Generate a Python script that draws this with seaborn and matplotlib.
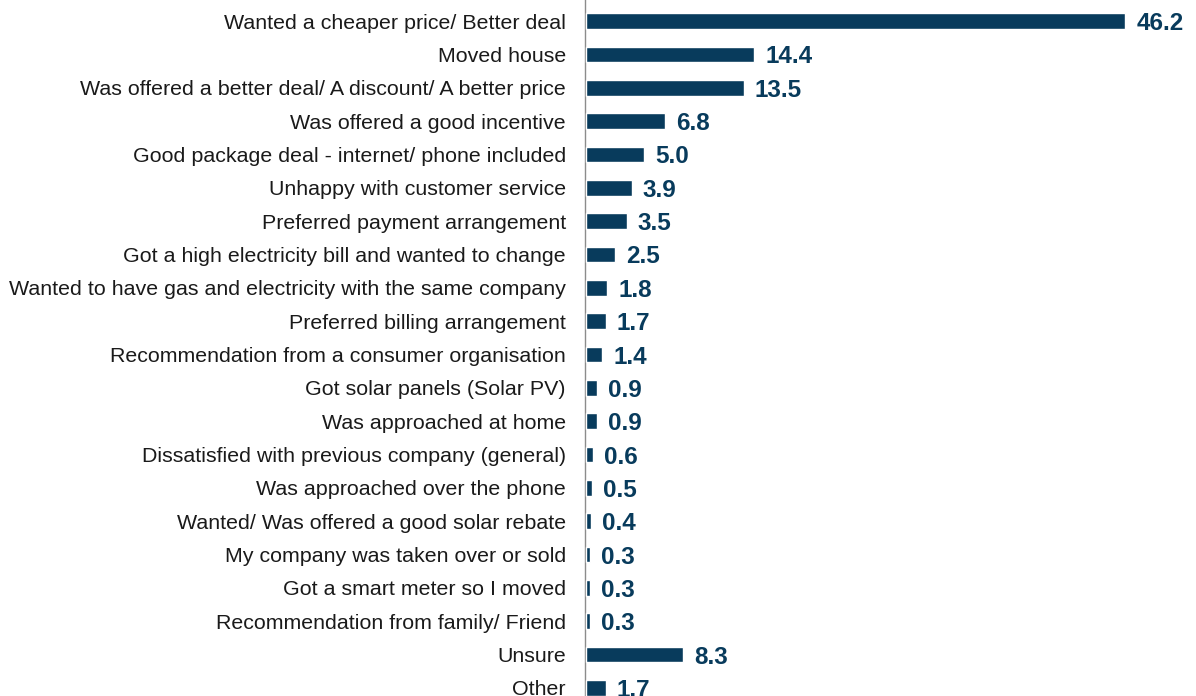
import matplotlib
matplotlib.use("Agg")
import matplotlib.pyplot as plt
import seaborn as sns
import pandas as pd

reasons = [
    "Wanted a cheaper price/ Better deal",
    "Moved house",
    "Was offered a better deal/ A discount/ A better price",
    "Was offered a good incentive",
    "Good package deal - internet/ phone included",
    "Unhappy with customer service",
    "Preferred payment arrangement",
    "Got a high electricity bill and wanted to change",
    "Wanted to have gas and electricity with the same company",
    "Preferred billing arrangement",
    "Recommendation from a consumer organisation",
    "Got solar panels (Solar PV)",
    "Was approached at home",
    "Dissatisfied with previous company (general)",
    "Was approached over the phone",
    "Wanted/ Was offered a good solar rebate",
    "My company was taken over or sold",
    "Got a smart meter so I moved",
    "Recommendation from family/ Friend",
    "Unsure",
    "Other",
]
percent = [46.2, 14.4, 13.5, 6.8, 5.0, 3.9, 3.5, 2.5, 1.8, 1.7, 1.4,
           0.9, 0.9, 0.6, 0.5, 0.4, 0.3, 0.3, 0.3, 8.3, 1.7]

df = pd.DataFrame({"reason": reasons, "percent": percent})

sns.set_theme(style="white")
plt.rcParams["font.family"] = ["Liberation Sans", "DejaVu Sans"]

bar_color = "#083B5C"

fig = plt.figure(figsize=(11.96, 6.96), dpi=100)
ax = fig.add_axes([584.5 / 1196, 0, 1 - 584.5 / 1196, 1])

sns.barplot(data=df, x="percent", y="reason", orient="h", color=bar_color,
            width=0.47, saturation=1, ax=ax, zorder=3)

labels = ax.bar_label(ax.containers[0], fmt="%.1f", padding=8, color=bar_color,
                      fontsize=17.5, fontweight="bold")
for t in labels:
    t.set_verticalalignment("center_baseline")

ax.set_xlim(-0.13, 52.28)
ax.set_ylim(20.24, -0.63)
ax.set_xlabel("")
ax.set_ylabel("")
ax.set_xticks([])
ax.tick_params(axis="y", length=0, pad=13.4, labelsize=15.4, labelcolor="#1a1a1a")

for side in ["top", "right", "bottom"]:
    ax.spines[side].set_visible(False)
ax.spines["left"].set_color("#8c8c8c")
ax.spines["left"].set_linewidth(1.0)
ax.patch.set_alpha(0)

fig.savefig("out.png", dpi=100)
